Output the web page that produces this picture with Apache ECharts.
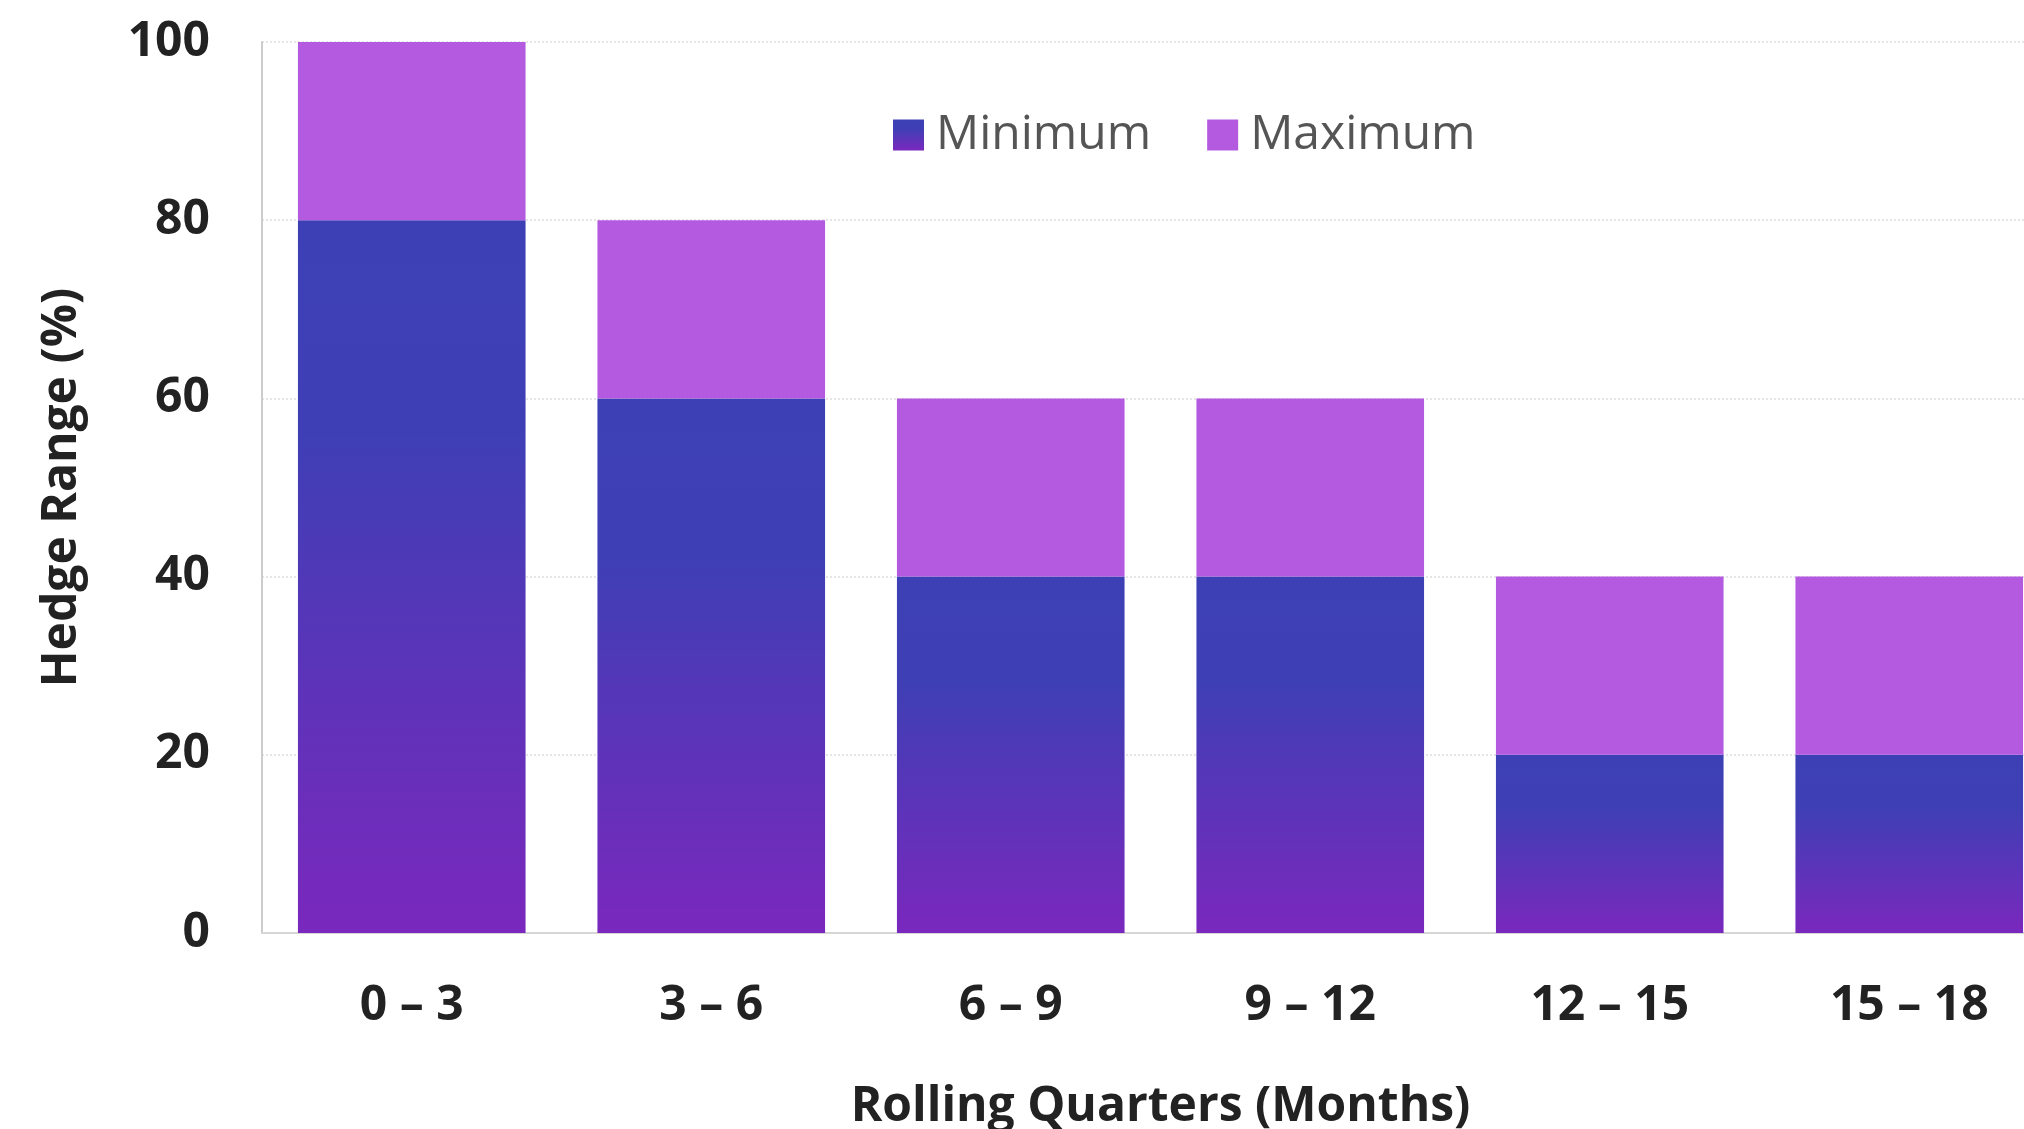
<!DOCTYPE html>
<html>
<head>
<meta charset="utf-8">
<script src="https://cdn.jsdelivr.net/npm/echarts@6/dist/echarts.min.js"></script>
<style>
html,body{margin:0;padding:0;background:#fff;}
#chart{width:2024px;height:1129px;}
</style>
</head>
<body>
<div id="chart"></div>
<script>
const categories = ['0 – 3', '3 – 6', '6 – 9', '9 – 12', '12 – 15', '15 – 18'];
const minimumValues = [80, 60, 40, 40, 20, 20];
const maximumValues = [100, 80, 60, 60, 40, 40];
const yTicks = [0, 20, 40, 60, 80, 100];

const rangeValues = maximumValues.map((v, i) => v - minimumValues[i]);

const chart = echarts.init(document.getElementById('chart'), null, {renderer: 'canvas'});
const font = '"Open Sans", "Noto Sans", sans-serif';
chart.setOption({
  animation: false,
  backgroundColor: '#ffffff',
  grid: {left: 262, top: 42, bottom: 196, right: -35, containLabel: false, outerBoundsMode: 'none'},
  legend: {
    data: ['Minimum', 'Maximum'],
    left: 893, top: 111, padding: 0,
    itemWidth: 31, itemHeight: 31, itemGap: 56,
    icon: 'rect',
    textStyle: {fontFamily: font, fontSize: 48, color: '#555555', padding: [0, 0, 0, 7]}
  },
  xAxis: {
    type: 'category',
    data: categories,
    name: 'Rolling Quarters (Months)',
    nameLocation: 'middle',
    nameGap: 150,
    nameTextStyle: {fontFamily: font, fontSize: 48, fontWeight: 'bold', color: '#222222'},
    axisLine: {show: true, lineStyle: {color: '#d6d6d6', width: 2}},
    axisTick: {show: false},
    axisLabel: {fontFamily: font, fontSize: 48, fontWeight: 'bold', color: '#222222', margin: 49}
  },
  yAxis: {
    type: 'value',
    min: yTicks[0], max: yTicks[yTicks.length - 1], interval: 20,
    name: 'Hedge Range (%)',
    nameLocation: 'middle',
    nameGap: 176,
    nameTextStyle: {fontFamily: font, fontSize: 48, fontWeight: 'bold', color: '#222222'},
    axisLine: {show: true, lineStyle: {color: '#cccccc', width: 2}},
    axisTick: {show: false},
    splitLine: {show: true, lineStyle: {color: '#dddddd', type: [2, 2], width: 1.5}},
    axisLabel: {fontFamily: font, fontSize: 48, fontWeight: 'bold', color: '#222222', margin: 52}
  },
  series: [
    {
      name: 'Minimum', type: 'bar', stack: 'hedge', data: minimumValues,
      barCategoryGap: '24%',
      itemStyle: {
        color: new echarts.graphic.LinearGradient(0, 0, 0, 1, [
          {offset: 0, color: '#3D40B5'},
          {offset: 0.3, color: '#3F3FB5'},
          {offset: 1, color: '#7A28BD'}
        ])
      }
    },
    {
      name: 'Maximum', type: 'bar', stack: 'hedge', data: rangeValues,
      barCategoryGap: '24%',
      itemStyle: {color: '#B35AE1'}
    }
  ]
});
</script>
</body>
</html>
